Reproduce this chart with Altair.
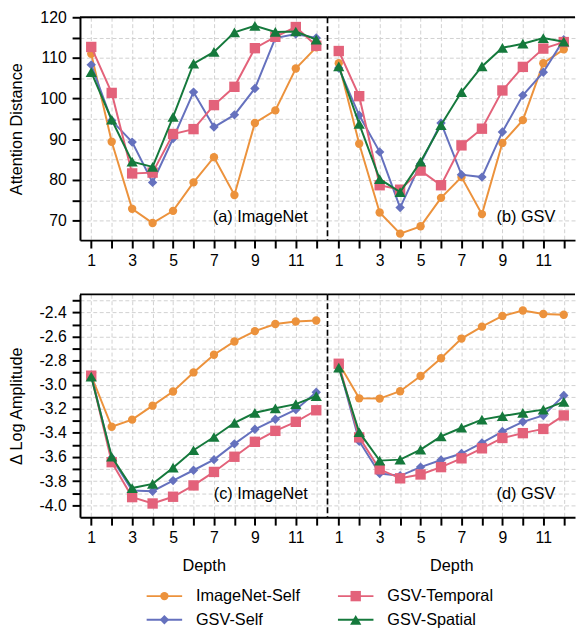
import altair as alt
import pandas as pd

depth = list(range(1, 13))
series_names = ["ImageNet-Self", "GSV-Self", "GSV-Temporal", "GSV-Spatial"]
series_colors = ["#EC923C", "#6571BE", "#E3627A", "#15793C"]
series_shapes = ["circle", "diamond", "square", "triangle-up"]
series_sizes = [72, 130, 70, 100]

# (a) Attention distance, ImageNet
ad_a_imagenet_self = [111.0, 89.4, 72.9, 69.4, 72.4, 79.4, 85.6, 76.3, 94.0, 97.1, 107.4, 112.6]
ad_a_gsv_self = [108.3, 94.6, 89.3, 79.4, 90.2, 101.6, 93.0, 96.0, 102.5, 114.9, 115.9, 114.9]
ad_a_gsv_temporal = [112.7, 101.4, 81.6, 81.8, 91.3, 92.5, 98.4, 102.9, 112.4, 115.2, 117.6, 113.0]
ad_a_gsv_spatial = [106.5, 94.8, 84.5, 83.2, 95.5, 108.6, 111.5, 116.3, 117.9, 116.4, 116.5, 114.5]

# (b) Attention distance, GSV
ad_b_imagenet_self = [108.7, 88.9, 72.0, 66.8, 68.6, 75.6, 80.7, 71.6, 89.1, 94.7, 108.7, 112.1]
ad_b_gsv_self = [107.5, 95.9, 86.9, 73.2, 84.0, 94.0, 81.3, 80.7, 91.8, 100.8, 106.5, 114.5]
ad_b_gsv_temporal = [111.7, 100.6, 78.7, 77.6, 82.3, 78.7, 88.5, 92.6, 102.0, 107.8, 112.3, 113.9]
ad_b_gsv_spatial = [107.9, 93.8, 80.2, 77.0, 84.5, 93.5, 101.6, 107.9, 112.5, 113.5, 114.9, 114.0]

# (c) Delta log amplitude, ImageNet
la_c_imagenet_self = [-2.925, -3.349, -3.29, -3.174, -3.056, -2.898, -2.751, -2.641, -2.555, -2.496, -2.475, -2.467]
la_c_gsv_self = [-2.92, -3.608, -3.879, -3.884, -3.796, -3.71, -3.622, -3.491, -3.37, -3.287, -3.207, -3.062]
la_c_gsv_temporal = [-2.925, -3.643, -3.933, -3.986, -3.93, -3.836, -3.724, -3.598, -3.474, -3.383, -3.308, -3.212]
la_c_gsv_spatial = [-2.933, -3.598, -3.858, -3.823, -3.689, -3.544, -3.434, -3.316, -3.233, -3.196, -3.161, -3.094]

# (d) Delta log amplitude, GSV
la_d_imagenet_self = [-2.821, -3.113, -3.115, -3.054, -2.928, -2.78, -2.617, -2.518, -2.429, -2.384, -2.413, -2.419]
la_d_gsv_self = [-2.839, -3.469, -3.737, -3.756, -3.684, -3.625, -3.571, -3.483, -3.389, -3.308, -3.255, -3.089]
la_d_gsv_temporal = [-2.826, -3.437, -3.702, -3.777, -3.745, -3.684, -3.611, -3.528, -3.442, -3.402, -3.367, -3.255]
la_d_gsv_spatial = [-2.858, -3.394, -3.63, -3.622, -3.539, -3.429, -3.357, -3.29, -3.26, -3.233, -3.207, -3.142]

panel_labels = ["(a) ImageNet", "(b) GSV", "(c) ImageNet", "(d) GSV"]
x_ticks = depth
ad_ticks = [70, 75, 80, 85, 90, 95, 100, 105, 110, 115, 120]
la_ticks = [round(-4.0 + 0.1 * i, 1) for i in range(18)]

FONT = "Liberation Sans"
W = 251
H = 226
GRID = "#d0d0d0"

color_scale = alt.Scale(domain=series_names, range=series_colors)
shape_scale = alt.Scale(domain=series_names, range=series_shapes)
size_scale = alt.Scale(domain=series_names, range=series_sizes)


def make_df(vals):
    rows = []
    for name, v in zip(series_names, vals):
        for d, y in zip(depth, v):
            rows.append({"depth": d, "series": name, "value": y})
    return pd.DataFrame(rows)


def panel(vals, ydom, yvals, ylabel_expr, ytitle, left, xtitle, label):
    df = make_df(vals)
    xaxis = alt.Axis(
        values=x_ticks,
        labelExpr="datum.value % 2 == 1 ? datum.label : ''",
        title=xtitle,
        tickSize=8, tickWidth=2, tickColor="black",
        domainColor="black", domainWidth=2,
        labelFontSize=16, labelColor="black", labelPadding=5, labelFont=FONT,
        titleFont=FONT, titleFontSize=16.5, titleFontWeight="normal",
        titleColor="black", titlePadding=12,
        grid=True, gridColor=GRID, gridDash=[4, 2.5], gridWidth=1,
    )
    if left:
        yaxis = alt.Axis(
            values=yvals, labelExpr=ylabel_expr, title=ytitle,
            tickSize=8, tickWidth=2, tickColor="black",
            domainColor="black", domainWidth=2,
            labelFontSize=16, labelColor="black", labelPadding=6, labelFont=FONT,
            titleFont=FONT, titleFontSize=16.5, titleFontWeight="normal",
            titleColor="black", titleX=-64.7, titleBaseline="middle",
            grid=True, gridColor=GRID, gridDash=[4, 2.5], gridWidth=1,
        )
    else:
        yaxis = alt.Axis(
            values=yvals, labels=False, ticks=False, domain=False, title=None,
            grid=True, gridColor=GRID, gridDash=[4, 2.5], gridWidth=1,
        )
    x = alt.X("depth:Q", scale=alt.Scale(domain=[0.45, 12.55], nice=False, zero=False), axis=xaxis)
    y = alt.Y("value:Q", scale=alt.Scale(domain=ydom, nice=False, zero=False), axis=yaxis)
    color = alt.Color("series:N", scale=color_scale, legend=None)
    shape = alt.Shape("series:N", scale=shape_scale, legend=None)
    size = alt.Size("series:N", scale=size_scale, legend=None)
    layers = []
    for s in series_names:
        base = alt.Chart(df).transform_filter(alt.datum.series == s)
        layers.append(base.mark_line(strokeWidth=2).encode(x=x, y=y, color=color))
        layers.append(base.mark_point(filled=True, opacity=1).encode(
            x=x, y=y, color=color, shape=shape, size=size))
    lab = pd.DataFrame({"label": [label]})
    layers.append(alt.Chart(lab).mark_rule(color="black", strokeWidth=2).encode(
        x=alt.value(0), x2=alt.value(W), y=alt.value(0)))
    if not left:
        layers.append(alt.Chart(lab).mark_rule(color="black", strokeWidth=1.7, strokeDash=[6, 3]).encode(
            x=alt.value(0), y=alt.value(0), y2=alt.value(H)))
    layers.append(alt.Chart(lab).mark_text(
        align="right", baseline="alphabetic", fontSize=16.5, font=FONT, color="black"
    ).encode(x=alt.value(W - 20), y=alt.value(H - 18), text="label:N"))
    return alt.layer(*layers).properties(width=W, height=H)


top_expr = "datum.value % 10 == 0 ? datum.label : ''"
bot_expr = "abs(round(datum.value * 10)) % 2 == 0 ? '-' + format(abs(datum.value), '.1f') : ''"

pa = panel([ad_a_imagenet_self, ad_a_gsv_self, ad_a_gsv_temporal, ad_a_gsv_spatial],
           [65.2, 120], ad_ticks, top_expr, "Attention Distance", True, None, panel_labels[0])
pb = panel([ad_b_imagenet_self, ad_b_gsv_self, ad_b_gsv_temporal, ad_b_gsv_spatial],
           [65.2, 120], ad_ticks, top_expr, None, False, None, panel_labels[1])
pc = panel([la_c_imagenet_self, la_c_gsv_self, la_c_gsv_temporal, la_c_gsv_spatial],
           [-4.1, -2.25], la_ticks, bot_expr, "Δ Log Amplitude", True, "Depth", panel_labels[2])
pd_ = panel([la_d_imagenet_self, la_d_gsv_self, la_d_gsv_temporal, la_d_gsv_spatial],
            [-4.1, -2.25], la_ticks, bot_expr, None, False, "Depth", panel_labels[3])

grid = alt.concat(pa, pb, pc, pd_, columns=2, spacing={"row": 55, "column": 0}, bounds="flush")

# legend (2 columns x 2 rows)
leg_col = [0, 0, 1, 1]
leg_row = [0, 1, 0, 1]
leg_df = pd.DataFrame({"series": series_names, "col": leg_col, "row": leg_row})
lx = alt.X("col:Q", scale=alt.Scale(domain=[0, 1], range=[67.6, 261.6]), axis=None)
ly = alt.Y("row:Q", scale=alt.Scale(domain=[0, 1], range=[12, 36]), axis=None)
lcolor = alt.Color("series:N", scale=color_scale, legend=None)
leg_base = alt.Chart(leg_df)
leg_line = leg_base.mark_rule(strokeWidth=2, x2Offset=36).encode(
    x=lx, x2=alt.X2("col:Q"), y=ly, color=lcolor)
leg_pts = leg_base.mark_point(filled=True, opacity=1, xOffset=18).encode(
    x=lx, y=ly, color=lcolor,
    shape=alt.Shape("series:N", scale=shape_scale, legend=None),
    size=alt.Size("series:N", scale=size_scale, legend=None))
leg_txt = leg_base.mark_text(align="left", baseline="middle", dx=50, fontSize=16.5,
                             font=FONT, color="black").encode(x=lx, y=ly, text="series:N")
legend = alt.layer(leg_line, leg_pts, leg_txt).properties(width=420, height=40)

chart = alt.vconcat(grid, legend, spacing=10).properties(
    padding={"left": 0, "top": -3, "right": 0, "bottom": 0}
).configure(font=FONT).configure_view(stroke=None)

chart.save("out.html", embed_options={"renderer": "svg", "actions": False})
